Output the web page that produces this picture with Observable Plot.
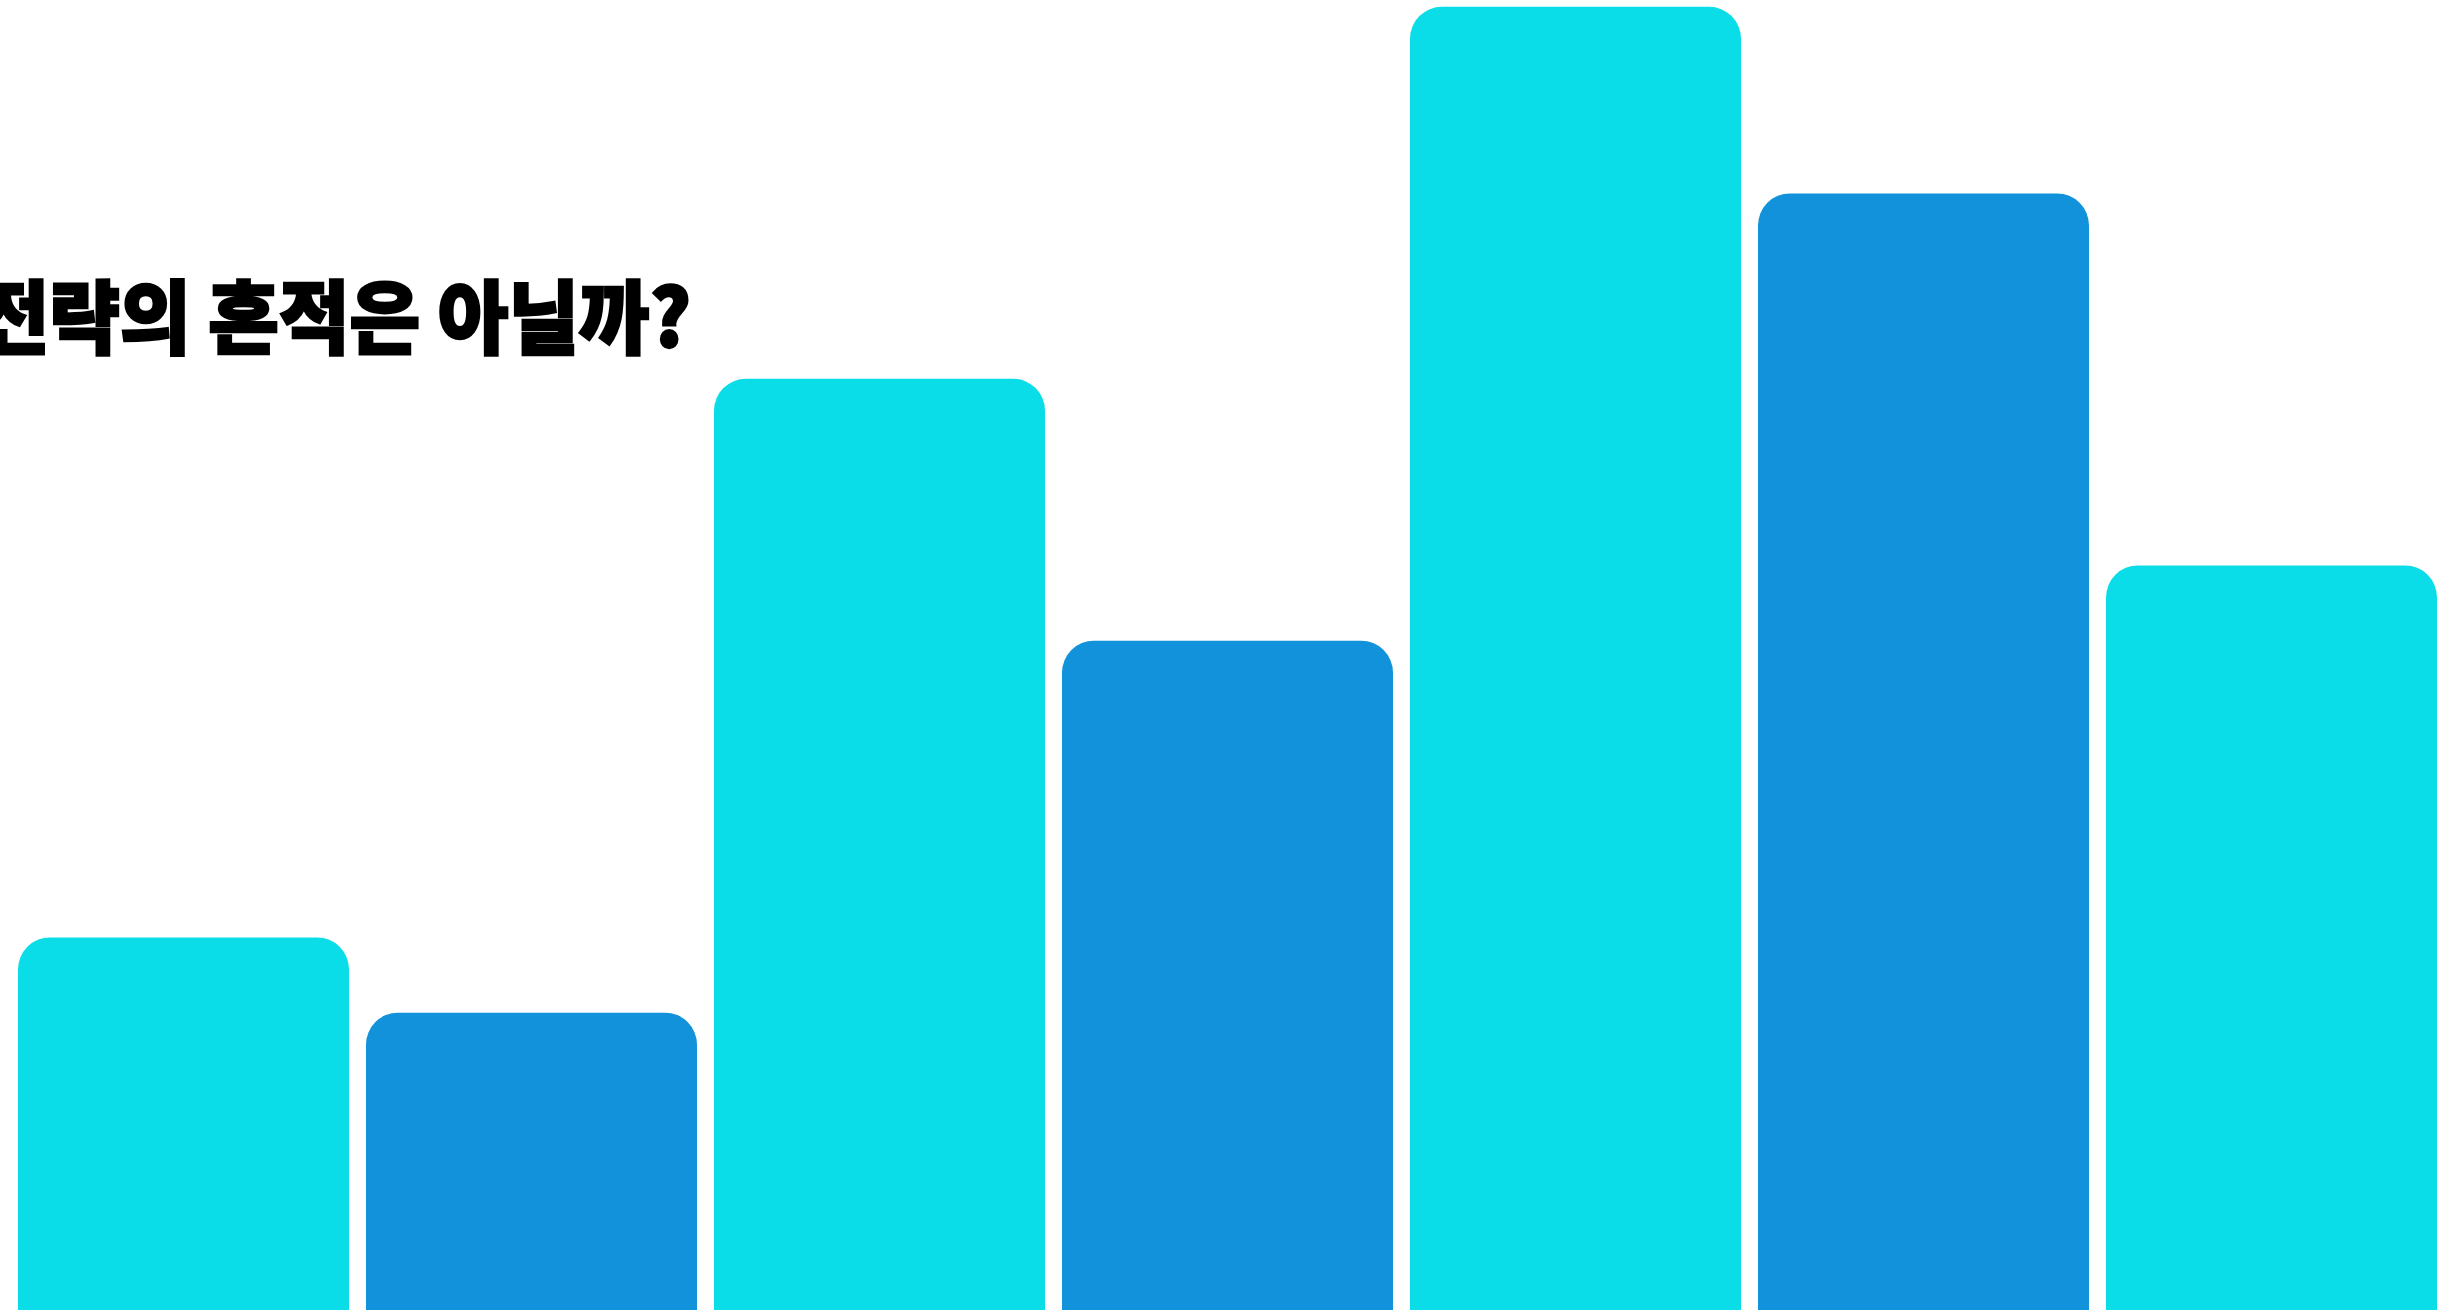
<!DOCTYPE html>
<html>
<head>
<meta charset="utf-8">
<script src="https://cdn.jsdelivr.net/npm/d3@7"></script>
<script src="https://cdn.jsdelivr.net/npm/@observablehq/plot@0.6"></script>
<style>
  html, body { margin: 0; padding: 0; background: #fff; overflow: hidden; }
  #wrap { position: relative; width: 2439px; height: 1310px; overflow: hidden; }
  #title {
    position: absolute;
    right: calc(2439px - 691px);
    top: 272px;
    font-family: "Noto Sans CJK KR", "Noto Sans", sans-serif;
    font-weight: 900;
    font-size: 80px;
    line-height: 1;
    color: #000;
    -webkit-text-stroke: 2.5px #000;
    white-space: nowrap;
    transform: scaleX(0.96);
    transform-origin: right top;
    z-index: 2;
  }
</style>
</head>
<body>
<div id="wrap">
  <div id="chart"></div>
  <div id="title"></div>
</div>
<script>
// Data
const categories = ["1", "2", "3", "4", "5", "6", "7"];
const values = [33.2, 27.8, 73.3, 54.5, 100, 86.6, 59.9];
const groups = ["a", "b", "a", "b", "a", "b", "a"];
const titleText = "전략의 흔적은 아닐까?";

const data = categories.map((c, i) => ({cat: c, value: values[i], group: groups[i]}));

const chart = Plot.plot({
  width: 2439,
  height: 1310,
  margin: 0,
  style: {background: "#fff"},
  x: {type: "band", domain: categories, range: [-1, 2456], padding: 0.05, axis: null},
  y: {domain: [0, 100], range: [1400, 6.7], axis: null},
  color: {domain: ["a", "b"], range: ["#0ADDE8", "#1192DB"]},
  marks: [
    Plot.barY(data, {x: "cat", y: "value", fill: "group", rx: 32})
  ]
});
document.getElementById("chart").appendChild(chart);
document.getElementById("title").textContent = titleText;
</script>
</body>
</html>
